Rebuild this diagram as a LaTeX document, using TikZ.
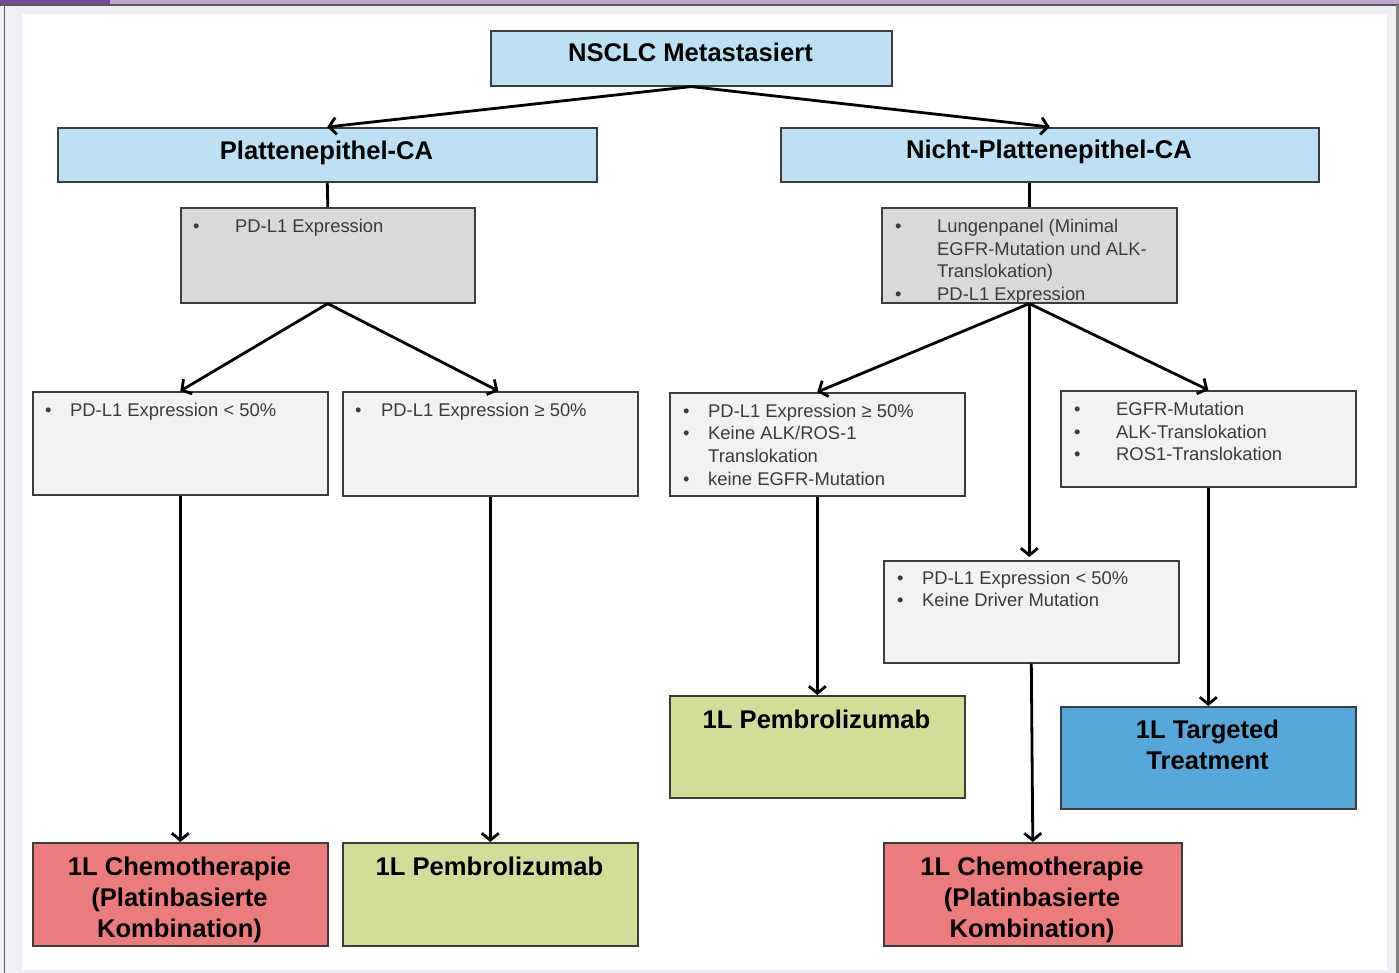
\documentclass[tikz,border=0pt]{standalone}
\usepackage{fontspec}
\setmainfont{Liberation Sans}
\usetikzlibrary{arrows.meta,calc}
\definecolor{ttlblue}{HTML}{BDE1F4}
\definecolor{midgray}{HTML}{D9D9D9}
\definecolor{lightgray}{HTML}{F2F2F2}
\definecolor{redbox}{HTML}{EC7B7B}
\definecolor{greenbox}{HTML}{D0DE97}
\definecolor{bluebox}{HTML}{56A7DA}
\definecolor{boxline}{HTML}{3C3C3C}
\definecolor{txtgray}{HTML}{3A3A3A}
\definecolor{framebg}{HTML}{F1EFF5}
\definecolor{purlight}{HTML}{C0A5CF}
\definecolor{purdark}{HTML}{7B4A96}
\definecolor{frameline}{HTML}{5A5A5A}
\begin{document}
\begin{tikzpicture}[x=1pt,y=-1pt,
  box/.style={draw=boxline, line width=1.6pt, inner sep=0pt, anchor=north west},
  btxt/.style={anchor=base west, inner sep=0pt, text=txtgray, font=\fontsize{18.4}{22.7}\selectfont},
  ttxt/.style={anchor=base, inner sep=0pt, text=black, font=\bfseries\fontsize{25.6}{31}\selectfont},
  link/.style={line width=2.8pt, draw=black},
  arr/.style={link, -{Straight Barb[length=7pt,width=17pt,line width=2.8pt]}}]
\useasboundingbox (0,0) rectangle (1399,973);
% frame
\fill[framebg] (0,0) rectangle (1399,973);
\fill[white] (22,14) rectangle (1387,969.5);
\fill[purlight] (0,0) rectangle (1399,4.5);
\fill[purdark] (0,0) rectangle (110,4.5);
\draw[frameline, line width=1.2pt] (0,5) -- (1399,5);
\draw[frameline, line width=1.5pt] (4.5,5) -- (4.5,973);
\draw[gray, line width=3pt] (1397.5,5) -- (1397.5,973);

% boxes
\node[box, fill=ttlblue, minimum width=401pt, minimum height=55pt] (nsclc) at (490,30) {};
\node[box, fill=ttlblue, minimum width=539pt, minimum height=54pt] (platte) at (57,127) {};
\node[box, fill=ttlblue, minimum width=538pt, minimum height=54pt] (nicht) at (780,127) {};
\node[box, fill=midgray, minimum width=294pt, minimum height=95pt] (grayL) at (180,207) {};
\node[box, fill=midgray, minimum width=295pt, minimum height=95pt] (grayR) at (881,207) {};
\node[box, fill=lightgray, minimum width=295pt, minimum height=103pt] (lt50) at (32,391) {};
\node[box, fill=lightgray, minimum width=295pt, minimum height=104pt] (ge50) at (342,391) {};
\node[box, fill=lightgray, minimum width=295pt, minimum height=103pt] (r50) at (669,392) {};
\node[box, fill=lightgray, minimum width=295pt, minimum height=96pt] (egfr) at (1060,390) {};
\node[box, fill=lightgray, minimum width=295pt, minimum height=102pt] (mid) at (883,560) {};
\node[box, fill=redbox, minimum width=295pt, minimum height=103pt] (chemoL) at (32,842) {};
\node[box, fill=greenbox, minimum width=295pt, minimum height=103pt] (pembroL) at (342,842) {};
\node[box, fill=greenbox, minimum width=295pt, minimum height=102pt] (pembroR) at (669,695) {};
\node[box, fill=bluebox, minimum width=295pt, minimum height=102pt] (target) at (1060,706) {};
\node[box, fill=redbox, minimum width=298pt, minimum height=103pt] (chemoR) at (883,842) {};

% title texts
\node[ttxt] (tnsclc) at (690.5,62) {NSCLC Metastasiert};
\node[ttxt] (tplatte) at (326.5,160) {Plattenepithel-CA};
\node[ttxt] (tnicht) at (1049,159) {Nicht-Plattenepithel-CA};
\node[ttxt] (tchemoL) at (179.5,875) {\begin{tabular}[t]{@{}c@{}}1L Chemotherapie\\(Platinbasierte\\Kombination)\end{tabular}};
\node[ttxt] (tpembroL) at (489.5,875) {1L Pembrolizumab};
\node[ttxt] (tpembroR) at (816.5,728) {1L Pembrolizumab};
\node[ttxt] (ttarget) at (1207.5,738) {\begin{tabular}[t]{@{}c@{}}1L Targeted\\Treatment\end{tabular}};
\node[ttxt] (tchemoR) at (1032,875) {\begin{tabular}[t]{@{}c@{}}1L Chemotherapie\\(Platinbasierte\\Kombination)\end{tabular}};

% bullet texts
\node[btxt] (tgrayL) at (193,232.5) {\begin{tabular}[t]{@{}p{42pt}@{}l@{}}\textbullet & PD-L1 Expression\end{tabular}};
\node[btxt] (tgrayR) at (895,232.5) {\begin{tabular}[t]{@{}p{42pt}@{}l@{}}\textbullet & Lungenpanel (Minimal\\ & EGFR-Mutation und ALK-\\ & Translokation)\\ \textbullet & PD-L1 Expression\end{tabular}};
\node[btxt] (tlt50) at (45,416.5) {\begin{tabular}[t]{@{}p{25pt}@{}l@{}}\textbullet & PD-L1 Expression < 50\%\end{tabular}};
\node[btxt] (tge50) at (355,416.5) {\begin{tabular}[t]{@{}p{26pt}@{}l@{}}\textbullet & PD-L1 Expression ≥ 50\%\end{tabular}};
\node[btxt] (tr50) at (683,417) {\begin{tabular}[t]{@{}p{25pt}@{}l@{}}\textbullet & PD-L1 Expression ≥ 50\%\\ \textbullet & Keine ALK/ROS-1\\ & Translokation\\ \textbullet & keine EGFR-Mutation\end{tabular}};
\node[btxt] (tegfr) at (1074,415.5) {\begin{tabular}[t]{@{}p{42pt}@{}l@{}}\textbullet & EGFR-Mutation\\ \textbullet & ALK-Translokation\\ \textbullet & ROS1-Translokation\end{tabular}};
\node[btxt] (tmid) at (897,584) {\begin{tabular}[t]{@{}p{25pt}@{}l@{}}\textbullet & PD-L1 Expression < 50\%\\ \textbullet & Keine Driver Mutation\end{tabular}};

% connectors
\draw[arr] (nsclc.south) -- (platte.north);
\draw[arr] (nsclc.south) -- (nicht.north);
\draw[link] (platte.south) -- (grayL.north);
\draw[link] (grayR.north |- nicht.south) -- (grayR.north);
\draw[arr] (grayL.south) -- (lt50.north);
\draw[arr] (grayL.south) -- ($(ge50.north)+(8,0)$);
\draw[arr] (grayR.south) -- (r50.north);
\draw[arr] (grayR.south) -- ($(mid.north)+(-2,-3)$);
\draw[arr] (grayR.south) -- (egfr.north);
\draw[arr] (lt50.south) -- (chemoL.north);
\draw[arr] (ge50.south) -- (pembroL.north);
\draw[arr] (r50.south) -- (pembroR.north);
\draw[arr] (egfr.south) -- (target.north);
\draw[arr] (mid.south) -- (chemoR.north);
\end{tikzpicture}
\end{document}
